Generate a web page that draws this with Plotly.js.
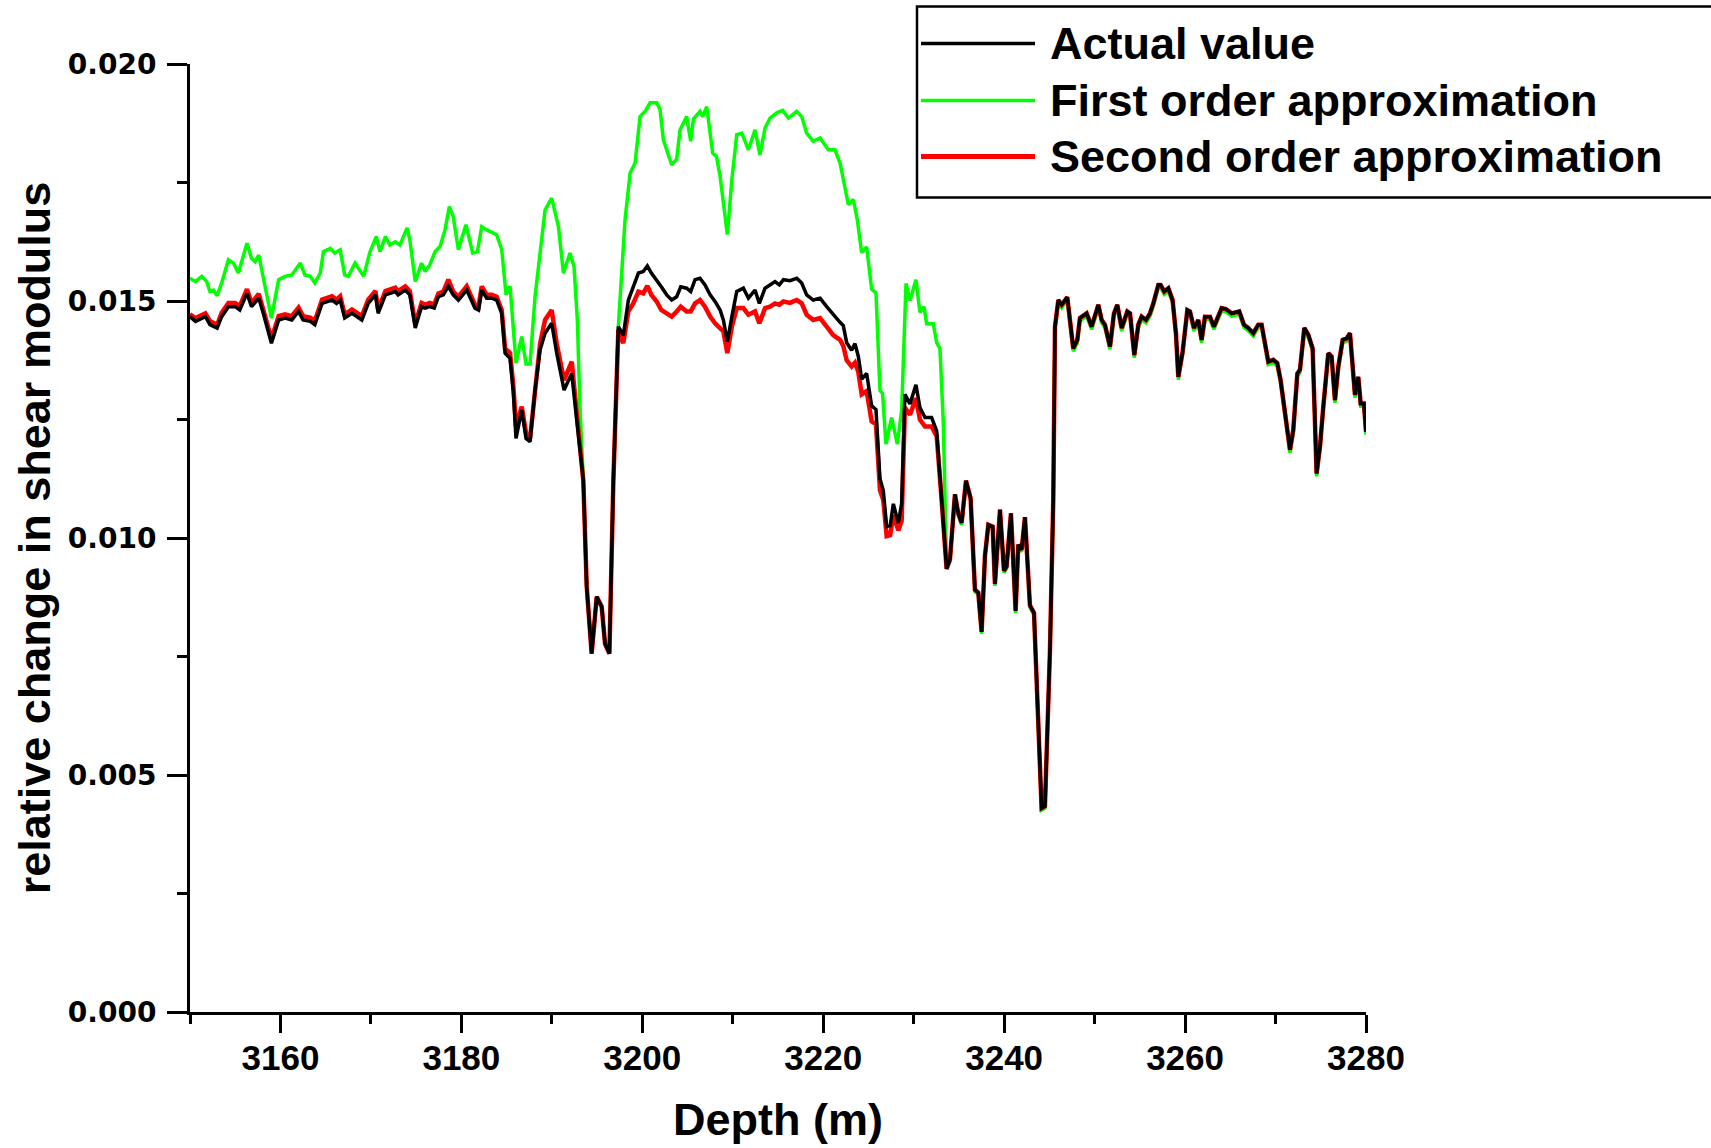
<!DOCTYPE html>
<html>
<head>
<meta charset="utf-8">
<script src="https://cdn.plot.ly/plotly-3.0.1.min.js"></script>
<style>
html, body { margin: 0; padding: 0; background: #ffffff; }
#chart { width: 1711px; height: 1148px; }
</style>
</head>
<body>
<div id="chart"></div>
<script>
// ---- Data ----
const depthActual = [
  3150.0,3150.6,3151.7,3152.2,3153.0,3153.5,3154.25,3155.0,3155.5,3156.3,
  3156.8,3157.6,3158.1,3159.0,3159.8,3160.5,3161.25,3162.0,3162.5,3163.3,
  3163.8,3164.6,3165.7,3166.2,3166.6,3167.1,3167.9,3169.0,3169.7,3170.5,
  3170.8,3171.6,3172.7,3173.0,3173.8,3174.3,3174.9,3175.6,3176.0,3176.5,
  3177.0,3177.46,3178.0,3178.56,3179.1,3179.67,3180.59,3181.5,3181.9,3182.25,
  3182.8,3183.35,3183.9,3184.46,3184.83,3185.38,3185.75,3186.04,3186.67,3187.15,
  3187.59,3188.14,3188.7,3189.25,3189.98,3190.54,3191.35,3192.2,3192.75,3193.48,
  3193.85,3194.4,3194.96,3195.51,3195.88,3196.36,3196.8,3197.35,3197.9,3198.46,
  3199.0,3199.57,3200.1,3200.56,3201.0,3201.59,3202.1,3202.7,3203.25,3203.8,
  3204.25,3204.9,3205.35,3205.83,3206.38,3206.93,3207.5,3208.04,3208.6,3208.96,
  3209.4,3209.9,3210.44,3211.17,3211.73,3212.46,3212.94,3213.57,3214.12,3214.67,
  3215.15,3215.6,3216.33,3217.07,3217.62,3218.17,3218.9,3219.65,3220.38,3221.1,
  3221.86,3222.22,3222.59,3223.14,3223.51,3223.88,3224.25,3224.8,3225.35,3225.83,
  3226.27,3226.64,3227.01,3227.4,3227.75,3228.3,3228.67,3229.03,3229.59,3230.25,
  3230.69,3231.25,3231.98,3232.54,3233.09,3233.64,3234.01,3234.56,3234.93,3235.3,
  3235.78,3236.29,3236.77,3237.14,3237.51,3237.88,3238.25,3238.73,3238.98,3239.54,
  3239.98,3240.27,3240.75,3241.27,3241.56,3241.93,3242.3,3242.85,3243.3,3244.14,
  3244.51,3245.06,3245.43,3245.62,3245.99,3246.36,3246.98,3247.35,3247.64,3248.09,
  3248.38,3249.12,3249.67,3250.41,3250.78,3251.14,3251.7,3252.14,3252.51,3252.99,
  3253.61,3253.91,3254.39,3254.83,3255.2,3255.68,3256.12,3256.49,3257.04,3257.3,
  3257.7,3258.15,3258.62,3258.99,3259.25,3259.73,3260.25,3260.54,3260.98,3261.46,
  3261.83,3262.2,3262.75,3263.19,3263.67,3264.04,3264.52,3265.15,3265.99,3266.51,
  3266.99,3267.54,3268.09,3268.46,3268.83,3269.2,3269.75,3270.19,3270.56,3271.04,
  3271.6,3271.96,3272.41,3272.7,3273.18,3273.62,3274.1,3274.54,3274.91,3275.28,
  3275.83,3276.2,3276.57,3276.94,3277.42,3277.86,3278.23,3278.78,3279.15,3279.41,
  3279.77,3280.0
];

const actualValue = [
  0.01467,0.01457,0.01467,0.01450,0.01443,0.01467,0.01488,0.01488,0.01481,0.01516,
  0.01488,0.01506,0.01474,0.01411,0.01460,0.01464,0.01460,0.01478,0.01460,0.01457,
  0.01450,0.01495,0.01502,0.01495,0.01502,0.01464,0.01474,0.01460,0.01495,0.01513,
  0.01474,0.01513,0.01520,0.01513,0.01523,0.01513,0.01443,0.01488,0.01485,0.01488,
  0.01485,0.01509,0.01513,0.01531,0.01513,0.01502,0.01523,0.01485,0.01481,0.01523,
  0.01506,0.01506,0.01502,0.01474,0.01390,0.01379,0.01305,0.01210,0.01270,0.01210,
  0.01203,0.01312,0.01397,0.01432,0.01453,0.01390,0.01312,0.01347,0.01249,0.01122,
  0.00897,0.00756,0.00876,0.00855,0.00777,0.00756,0.01122,0.01446,0.01428,0.01502,
  0.01530,0.01559,0.01562,0.01574,0.01559,0.01545,0.01530,0.01513,0.01502,0.01509,
  0.01530,0.01527,0.01520,0.01545,0.01548,0.01534,0.01513,0.01499,0.01481,0.01460,
  0.01414,0.01467,0.01520,0.01527,0.01506,0.01523,0.01495,0.01527,0.01534,0.01541,
  0.01534,0.01545,0.01543,0.01548,0.01538,0.01513,0.01502,0.01506,0.01488,0.01471,
  0.01455,0.01448,0.01412,0.01396,0.01410,0.01383,0.01335,0.01347,0.01279,0.01271,
  0.01125,0.01100,0.01024,0.01026,0.01072,0.01032,0.01072,0.01303,0.01283,0.01323,
  0.01275,0.01254,0.01254,0.01226,0.01084,0.00935,0.00955,0.01092,0.01052,0.01032,
  0.01121,0.01084,0.00891,0.00885,0.00802,0.00963,0.01028,0.01024,0.00903,0.01060,
  0.00931,0.00940,0.01052,0.00846,0.00986,0.00975,0.01044,0.00858,0.00842,0.00430,
  0.00434,0.00761,0.01080,0.01446,0.01502,0.01492,0.01508,0.01446,0.01400,0.01418,
  0.01464,0.01474,0.01446,0.01492,0.01460,0.01450,0.01404,0.01474,0.01492,0.01443,
  0.01478,0.01474,0.01386,0.01450,0.01467,0.01460,0.01474,0.01495,0.01534,0.01534,
  0.01520,0.01527,0.01502,0.01432,0.01340,0.01393,0.01481,0.01478,0.01443,0.01460,
  0.01418,0.01467,0.01467,0.01446,0.01471,0.01485,0.01483,0.01474,0.01478,0.01450,
  0.01443,0.01432,0.01450,0.01450,0.01411,0.01372,0.01376,0.01369,0.01333,0.01263,
  0.01186,0.01228,0.01347,0.01355,0.01443,0.01429,0.01400,0.01136,0.01193,0.01277,
  0.01390,0.01383,0.01291,0.01362,0.01418,0.01421,0.01432,0.01302,0.01340,0.01284,
  0.01284,0.01224
];

// Second order approximation (same depth samples as the actual value)
const secondOrder = [
  0.01472,0.01464,0.01474,0.01458,0.01450,0.01475,0.01496,0.01496,0.01489,0.01525,
  0.01496,0.01515,0.01482,0.01420,0.01468,0.01472,0.01468,0.01486,0.01468,0.01465,
  0.01458,0.01503,0.01510,0.01503,0.01510,0.01472,0.01482,0.01468,0.01503,0.01521,
  0.01482,0.01521,0.01528,0.01521,0.01531,0.01521,0.01452,0.01496,0.01492,0.01496,
  0.01493,0.01516,0.01520,0.01545,0.01520,0.01509,0.01531,0.01492,0.01488,0.01531,
  0.01513,0.01513,0.01509,0.01481,0.01400,0.01390,0.01320,0.01235,0.01277,0.01222,
  0.01210,0.01320,0.01410,0.01460,0.01481,0.01410,0.01333,0.01372,0.01260,0.01120,
  0.00900,0.00756,0.00876,0.00855,0.00777,0.00756,0.01120,0.01439,0.01411,0.01478,
  0.01495,0.01520,0.01516,0.01532,0.01513,0.01499,0.01481,0.01474,0.01467,0.01478,
  0.01488,0.01478,0.01478,0.01495,0.01502,0.01488,0.01467,0.01453,0.01443,0.01436,
  0.01390,0.01446,0.01485,0.01485,0.01471,0.01478,0.01453,0.01485,0.01488,0.01495,
  0.01492,0.01499,0.01496,0.01502,0.01495,0.01471,0.01460,0.01464,0.01446,0.01428,
  0.01418,0.01405,0.01375,0.01362,0.01370,0.01350,0.01303,0.01310,0.01246,0.01240,
  0.01101,0.01080,0.01004,0.01006,0.01048,0.01016,0.01036,0.01275,0.01260,0.01295,
  0.01250,0.01235,0.01235,0.01215,0.01080,0.00935,0.00955,0.01092,0.01052,0.01032,
  0.01121,0.01084,0.00891,0.00885,0.00802,0.00963,0.01028,0.01024,0.00903,0.01060,
  0.00931,0.00940,0.01052,0.00846,0.00986,0.00975,0.01044,0.00858,0.00842,0.00430,
  0.00434,0.00761,0.01080,0.01446,0.01502,0.01492,0.01508,0.01446,0.01400,0.01418,
  0.01464,0.01474,0.01446,0.01492,0.01460,0.01450,0.01404,0.01474,0.01492,0.01443,
  0.01478,0.01474,0.01386,0.01450,0.01467,0.01460,0.01474,0.01495,0.01534,0.01534,
  0.01520,0.01527,0.01502,0.01432,0.01340,0.01393,0.01481,0.01478,0.01443,0.01460,
  0.01418,0.01467,0.01467,0.01446,0.01471,0.01485,0.01483,0.01474,0.01478,0.01450,
  0.01443,0.01432,0.01450,0.01450,0.01411,0.01372,0.01376,0.01369,0.01333,0.01263,
  0.01186,0.01228,0.01347,0.01355,0.01443,0.01429,0.01400,0.01136,0.01193,0.01277,
  0.01390,0.01383,0.01291,0.01362,0.01418,0.01421,0.01432,0.01302,0.01340,0.01284,
  0.01284,0.01224
];

const depthFirst = [
  3150.0,3150.6,3151.3,3151.85,3152.2,3152.6,3153.0,3153.5,3154.25,3154.8,
  3155.35,3155.7,3156.3,3156.8,3157.2,3157.6,3158.1,3159.0,3159.8,3160.5,
  3161.25,3162.2,3162.7,3163.3,3163.8,3164.4,3164.75,3165.5,3166.0,3166.6,
  3167.1,3167.5,3168.25,3169.2,3169.9,3170.6,3171.0,3171.6,3172.1,3172.7,
  3173.2,3174.0,3174.3,3174.9,3175.6,3176.0,3176.5,3177.09,3177.64,3178.19,
  3178.67,3179.1,3179.67,3180.5,3181.25,3181.77,3182.25,3182.8,3183.9,3184.46,
  3184.94,3185.38,3186.04,3186.67,3187.15,3187.59,3188.14,3188.88,3189.25,3189.98,
  3190.73,3191.28,3192.0,3192.45,3192.82,3193.1,3193.48,3193.85,3194.4,3194.96,
  3195.51,3195.88,3196.36,3196.8,3197.35,3198.09,3198.65,3199.2,3199.75,3200.3,
  3200.86,3201.6,3201.96,3202.33,3203.25,3203.8,3204.17,3204.9,3205.35,3205.65,
  3206.38,3206.68,3207.12,3207.78,3208.2,3208.6,3209.4,3209.9,3210.44,3211.0,
  3211.73,3212.46,3213.0,3213.57,3214.12,3214.86,3215.52,3216.15,3217.07,3217.62,
  3218.17,3218.9,3219.65,3220.57,3221.3,3221.86,3222.41,3222.78,3223.33,3223.77,
  3224.25,3224.8,3225.35,3225.83,3226.27,3226.56,3226.93,3227.56,3228.19,3228.67,
  3229.15,3229.59,3230.25,3230.69,3231.14,3231.43,3232.17,3232.54,3232.9,3233.27,
  3233.64,3234.01,3234.56,3234.93,3235.3,
  3235.78,3236.29,3236.77,3237.14,3237.51,3237.88,3238.25,3238.73,3238.98,3239.54,
  3239.98,3240.27,3240.75,3241.27,3241.56,3241.93,3242.3,3242.85,3243.3,3244.14,
  3244.51,3245.06,3245.43,3245.62,3245.99,3246.36,3246.98,3247.35,3247.64,3248.09,
  3248.38,3249.12,3249.67,3250.41,3250.78,3251.14,3251.7,3252.14,3252.51,3252.99,
  3253.61,3253.91,3254.39,3254.83,3255.2,3255.68,3256.12,3256.49,3257.04,3257.3,
  3257.7,3258.15,3258.62,3258.99,3259.25,3259.73,3260.25,3260.54,3260.98,3261.46,
  3261.83,3262.2,3262.75,3263.19,3263.67,3264.04,3264.52,3265.15,3265.99,3266.51,
  3266.99,3267.54,3268.09,3268.46,3268.83,3269.2,3269.75,3270.19,3270.56,3271.04,
  3271.6,3271.96,3272.41,3272.7,3273.18,3273.62,3274.1,3274.54,3274.91,3275.28,
  3275.83,3276.2,3276.57,3276.94,3277.42,3277.86,3278.23,3278.78,3279.15,3279.41,
  3279.77,3280.0
];

const firstOrder = [
  0.01548,0.01541,0.01552,0.01541,0.01520,0.01523,0.01511,0.01538,0.01587,0.01580,
  0.01559,0.01580,0.01622,0.01590,0.01583,0.01597,0.01552,0.01464,0.01545,0.01552,
  0.01555,0.01580,0.01555,0.01552,0.01538,0.01559,0.01604,0.01611,0.01601,0.01608,
  0.01555,0.01552,0.01580,0.01552,0.01604,0.01636,0.01604,0.01636,0.01618,0.01625,
  0.01618,0.01654,0.01629,0.01541,0.01580,0.01562,0.01576,0.01604,0.01615,0.01650,
  0.01699,0.01678,0.01608,0.01661,0.01601,0.01604,0.01657,0.01650,0.01640,0.01608,
  0.01513,0.01531,0.01369,0.01425,0.01367,0.01367,0.01509,0.01629,0.01692,0.01717,
  0.01657,0.01559,0.01601,0.01573,0.01460,0.01280,0.01122,0.00897,0.00756,0.00876,
  0.00855,0.00777,0.00756,0.01122,0.01446,0.01671,0.01770,0.01791,0.01889,0.01900,
  0.01918,0.01918,0.01904,0.01840,0.01787,0.01799,0.01861,0.01889,0.01837,0.01884,
  0.01900,0.01889,0.01910,0.01812,0.01805,0.01763,0.01640,0.01756,0.01851,0.01854,
  0.01819,0.01861,0.01808,0.01865,0.01886,0.01897,0.01902,0.01886,0.01900,0.01889,
  0.01854,0.01837,0.01844,0.01819,0.01819,0.01791,0.01742,0.01703,0.01714,0.01671,
  0.01602,0.01614,0.01525,0.01517,0.01311,0.01305,0.01198,0.01254,0.01198,0.01270,
  0.01537,0.01501,0.01545,0.01476,0.01488,0.01452,0.01452,0.01412,0.01400,0.01246,
  0.00935,0.00951,0.01088,0.01048,0.01028,
  0.01117,0.01080,0.00887,0.00881,0.00798,0.00959,0.01024,0.01020,0.00899,0.01056,
  0.00927,0.00936,0.01048,0.00842,0.00982,0.00971,0.01040,0.00854,0.00838,0.00426,
  0.00430,0.00757,0.01076,0.01440,0.01496,0.01486,0.01502,0.01440,0.01394,0.01412,
  0.01458,0.01468,0.01440,0.01486,0.01454,0.01444,0.01398,0.01468,0.01486,0.01437,
  0.01472,0.01468,0.01380,0.01444,0.01461,0.01454,0.01468,0.01489,0.01528,0.01528,
  0.01514,0.01521,0.01496,0.01426,0.01334,0.01387,0.01475,0.01472,0.01437,0.01454,
  0.01412,0.01461,0.01461,0.01440,0.01465,0.01479,0.01477,0.01468,0.01472,0.01444,
  0.01437,0.01426,0.01444,0.01444,0.01405,0.01366,0.01370,0.01363,0.01327,0.01257,
  0.01180,0.01222,0.01341,0.01349,0.01437,0.01423,0.01394,0.01130,0.01187,0.01271,
  0.01384,0.01377,0.01285,0.01356,0.01412,0.01415,0.01426,0.01296,0.01334,0.01278,
  0.01278,0.01218
];

const seriesNames = ['Actual value', 'First order approximation', 'Second order approximation'];
const seriesColors = ['#000000', '#00ff00', '#ff0000'];
const xTitle = 'Depth (m)';
const yTitle = 'relative change in shear modulus';
const xTickValues = [3160, 3180, 3200, 3220, 3240, 3260, 3280];
const xTickLabels = ['3160', '3180', '3200', '3220', '3240', '3260', '3280'];
const yTickValues = [0, 0.005, 0.010, 0.015, 0.020];
const yTickLabels = ['0.000', '0.005', '0.010', '0.015', '0.020'];

// ---- Figure ----
const FONT = 'Liberation Sans, Arial, Helvetica, sans-serif';

const traces = [
  { x: depthFirst, y: firstOrder, type: 'scatter', mode: 'lines', name: seriesNames[1],
    line: { color: seriesColors[1], width: 3.5 }, showlegend: false, hoverinfo: 'skip' },
  { x: depthActual, y: secondOrder, type: 'scatter', mode: 'lines', name: seriesNames[2],
    line: { color: seriesColors[2], width: 4.5 }, showlegend: false, hoverinfo: 'skip' },
  { x: depthActual, y: actualValue, type: 'scatter', mode: 'lines', name: seriesNames[0],
    line: { color: seriesColors[0], width: 3.5 }, showlegend: false, hoverinfo: 'skip' }
];

// plot area in pixels: x 190..1366, y 64..1012
const L = 190, R = 1366, T = 64, B = 1012;
const px = v => (v - L) / (R - L);
const py = v => (B - v) / (B - T);

const legendRows = [43.6, 100.6, 156.6];
const legendLineWidths = [3.5, 3.5, 5];

const shapes = [
  { type: 'rect', xref: 'paper', yref: 'paper', x0: px(917), x1: px(1730), y0: py(197.5), y1: py(6.5),
    line: { color: '#000000', width: 2.5 }, fillcolor: 'rgba(0,0,0,0)' }
];
const annotations = [];
for (let i = 0; i < 3; i++) {
  shapes.push({ type: 'line', xref: 'paper', yref: 'paper', x0: px(921), x1: px(1035),
    y0: py(legendRows[i]), y1: py(legendRows[i]),
    line: { color: seriesColors[i], width: legendLineWidths[i] } });
  annotations.push({ xref: 'paper', yref: 'paper', x: px(1048), y: py(legendRows[i]),
    xanchor: 'left', yanchor: 'middle', showarrow: false, text: seriesNames[i],
    font: { family: FONT, size: 45, color: '#000000', weight: 700 } });
}

const layout = {
  width: 1711, height: 1148,
  margin: { l: L, r: 1711 - R, t: T, b: 1148 - B, pad: 0 },
  paper_bgcolor: '#ffffff', plot_bgcolor: '#ffffff',
  showlegend: false,
  xaxis: {
    range: [3150, 3280], tickmode: 'array', tickvals: xTickValues, ticktext: xTickLabels,
    ticks: 'outside', ticklen: 18, tickwidth: 3, tickcolor: '#000000',
    showline: true, linewidth: 3, linecolor: '#000000', mirror: false,
    showgrid: false, zeroline: false, ticklabelstandoff: -5,
    tickfont: { family: FONT, size: 35, color: '#000000', weight: 700 },
    minor: { tickmode: 'linear', tick0: 3150, dtick: 10, ticks: 'outside', ticklen: 9, tickwidth: 3, tickcolor: '#000000', showgrid: false },
    title: { text: xTitle, standoff: 28, font: { family: FONT, size: 45, color: '#000000', weight: 700 } }
  },
  yaxis: {
    range: [0, 0.020], tickmode: 'array', tickvals: yTickValues, ticktext: yTickLabels,
    ticks: 'outside', ticklen: 20, tickwidth: 3, tickcolor: '#000000',
    showline: true, linewidth: 3, linecolor: '#000000', mirror: false,
    showgrid: false, zeroline: false, ticklabelstandoff: 5,
    tickfont: { family: 'DejaVu Sans, ' + FONT, size: 28, color: '#000000', weight: 700 },
    minor: { tickmode: 'linear', tick0: 0, dtick: 0.0025, ticks: 'outside', ticklen: 10, tickwidth: 3, tickcolor: '#000000', showgrid: false },
    title: { text: yTitle, standoff: 4, font: { family: FONT, size: 45, color: '#000000', weight: 700 } }
  },
  shapes: shapes,
  annotations: annotations
};

Plotly.newPlot('chart', traces, layout, { displayModeBar: false, staticPlot: true });
</script>
</body>
</html>
